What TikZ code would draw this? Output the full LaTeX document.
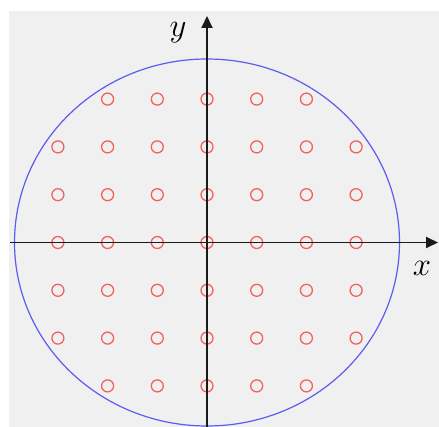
\documentclass[tikz,border=0pt]{standalone}
\usepackage{xcolor}
\definecolor{cBg}{HTML}{F0F0F0}
\definecolor{cRim}{HTML}{5C5CF0}
\definecolor{cDot}{HTML}{F06262}
\definecolor{cAxis}{HTML}{1A1A1A}
\usepackage{tikz}
\usetikzlibrary{arrows.meta,calc}
\tikzset{
  node-dot/.style={draw=cDot,line width=1.3pt,circle,minimum size=12pt,inner sep=0pt},
  node-lbl/.style={font=\LARGE,scale=1.9,inner sep=0pt},
  line-rim/.style={draw=cRim,line width=1.2pt},
  arrow-axis/.style={-{Triangle[length=12pt,width=11pt]},line width=1.8pt,draw=cAxis},
}
\begin{document}
\begin{tikzpicture}[x=1pt,y=-1pt]
  \useasboundingbox (0,0) rectangle (439,427);
  \fill[cBg] (9,11) rectangle (439,427);
  \coordinate (o) at (207,242.5);
  \draw[line-rim] (o) ellipse[x radius=192.5,y radius=183.5];
  % dots on a 7x7 grid, corners left out
  \foreach \i in {-3,...,3}
    \foreach \j in {-3,...,3}{
      \pgfmathtruncatemacro{\edge}{abs(\i)==3 && abs(\j)==3}
      \ifnum\edge=0
        \node[node-dot] (p\i\j) at ($(o)+(49.7*\i,47.8*\j)$) {};
      \fi
    }
  \coordinate (xl) at (10,242.5);
  \coordinate (xr) at (438,242.5);
  \coordinate (yb) at (207,427);
  \coordinate (yt) at (207,16);
  \draw[arrow-axis] (xl) -- (xr);
  \draw[arrow-axis] (yb) -- (yt);
  \node[node-lbl] (ylbl) at (178,33) {$y$};
  \node[node-lbl] (xlbl) at (422,268) {$x$};
\end{tikzpicture}
\end{document}
